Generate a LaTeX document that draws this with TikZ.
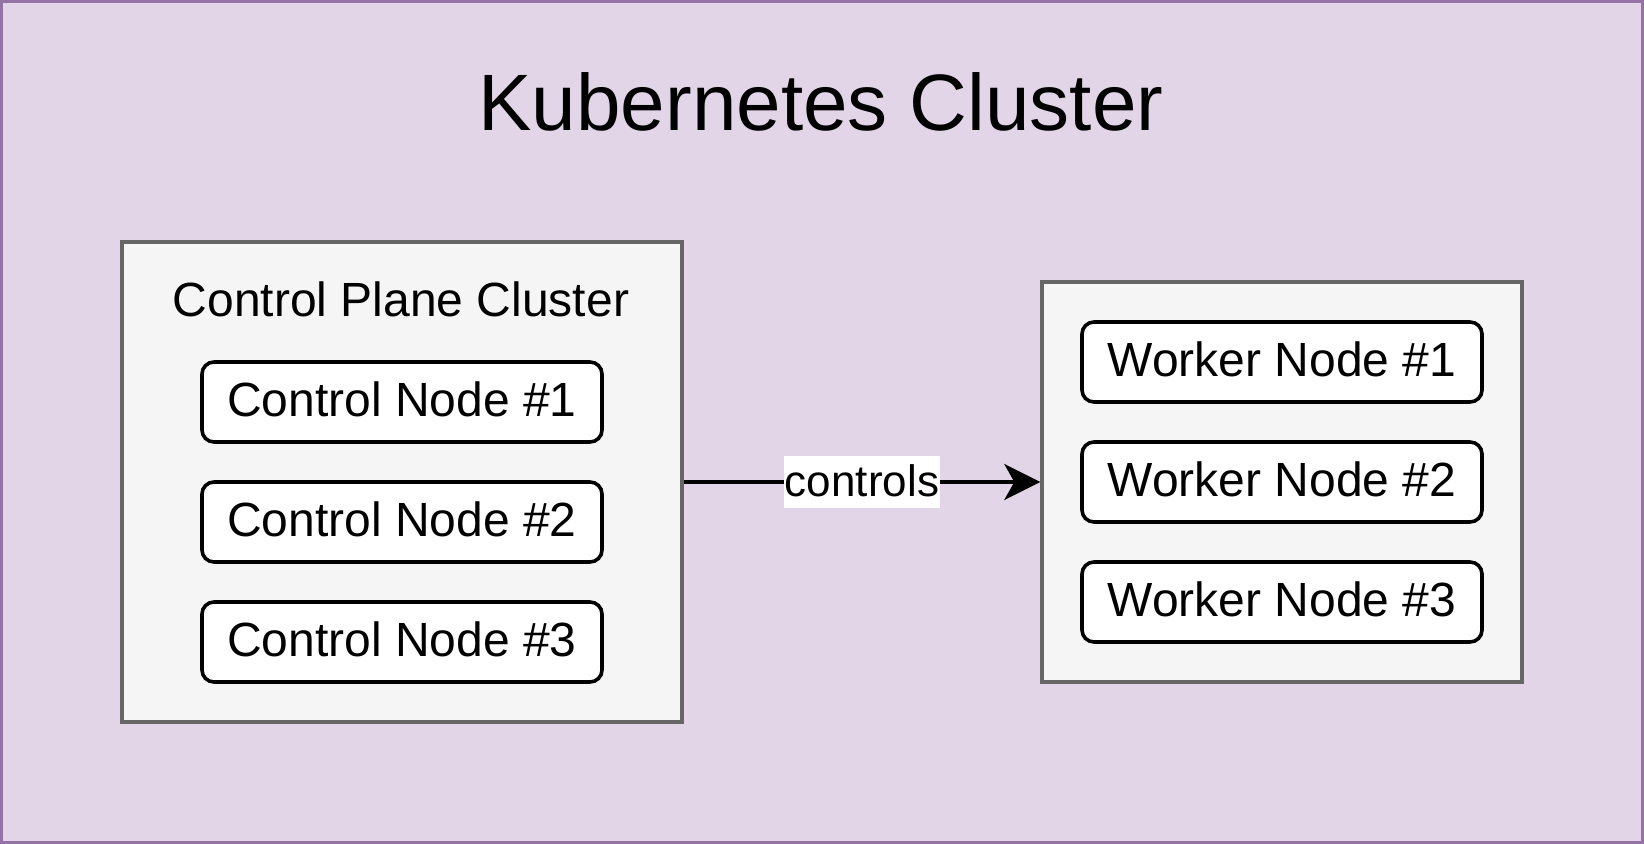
\documentclass[tikz,border=0pt]{standalone}
\usepackage{fontspec}
\setmainfont{Liberation Sans}
\usetikzlibrary{arrows.meta}

\definecolor{clusterfill}{HTML}{E1D5E7}
\definecolor{clusterdraw}{HTML}{9673A6}
\definecolor{groupfill}{HTML}{F5F5F5}
\definecolor{groupdraw}{HTML}{666666}

\begin{document}
\begin{tikzpicture}[x=1pt,y=1pt,yscale=-1,
	groupbox/.style={draw=groupdraw,fill=groupfill,line width=1.7pt,inner sep=0pt},
	nodebox/.style={draw=black,fill=white,line width=1.8pt,rounded corners=6pt,minimum width=200pt,minimum height=40pt,inner sep=0pt,text height=19.2pt,text depth=4.8pt,font=\fontsize{24}{28}\selectfont},
	grouptext/.style={anchor=base,inner sep=0pt,font=\fontsize{24}{28}\selectfont}]
	\useasboundingbox (0,0) rectangle (822,422);
	
	%Shape: Rectangle [outer cluster]
	\node [draw=clusterdraw,fill=clusterfill,line width=1.5pt,inner sep=0pt,minimum width=820.5pt,minimum height=420.5pt] (k8s) at (411,211) {};
	% Text Node
	\node [anchor=base,inner sep=0pt,font=\fontsize{40}{48}\selectfont] (k8stitle) at (410.5,65.5) {Kubernetes Cluster};
	
	%Shape: Rectangle [control plane]
	\node [groupbox,minimum width=280pt,minimum height=240pt] (cplane) at (201,241) {};
	% Text Node
	\node [grouptext] (cplanetitle) at (200.5,158.3) {Control Plane Cluster};
	\foreach \i/\y in {1/201,2/261,3/321}
		\node [nodebox] (ctrl\i) at (201,\y) {Control Node \#\i};
	
	%Shape: Rectangle [workers]
	\node [groupbox,minimum width=240pt,minimum height=200pt] (workers) at (641,241) {};
	\foreach \i/\y in {1/181,2/241,3/301}
		\node [nodebox] (worker\i) at (641,\y) {Worker Node \#\i};
	
	%Straight Lines [controls]
	\draw [line width=1.7pt,-{Stealth[length=18pt,width=18pt,inset=5pt]}] (cplane.east) -- node [fill=white,inner xsep=0.5pt,inner ysep=0pt,text height=19.9pt,text depth=5.9pt,font=\fontsize{22}{26}\selectfont] (ctrllabel) {controls} (workers.west);
	
\end{tikzpicture}
\end{document}
